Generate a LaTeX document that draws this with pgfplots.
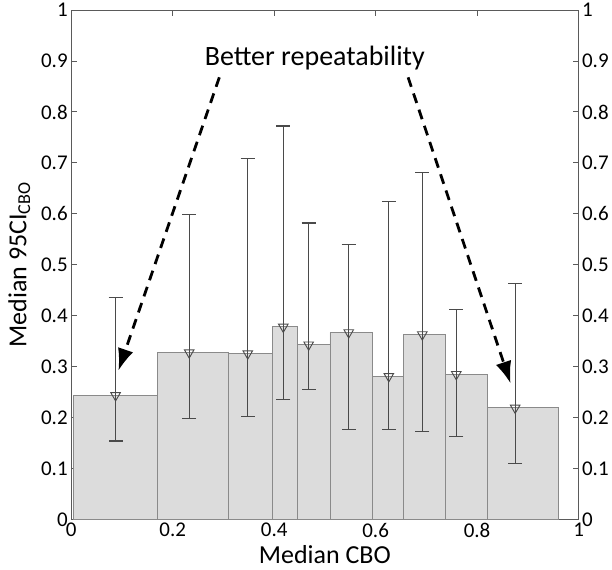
\documentclass[border={5bp 3bp 0bp 0bp}]{standalone}
\usepackage{fontspec}
\setmainfont{Carlito}
\usepackage{pgfplots}
\usepackage{pgfplotstable}
\pgfplotsset{compat=1.18}
\usetikzlibrary{arrows.meta}

\definecolor{barfill}{HTML}{DCDCDC}
\definecolor{baredge}{HTML}{8A8A8A}
\definecolor{errgray}{HTML}{4A4A4A}
\definecolor{axisgray}{HTML}{5A5A5A}

% bin edges (left) and bar heights; last row closes the final bin
\pgfplotstableread{
edge  h
0.005 0.2435
0.170 0.3276
0.310 0.3256
0.397 0.378
0.445 0.343
0.510 0.367
0.593 0.281
0.655 0.363
0.737 0.285
0.821 0.219
0.960 0.219
}\bins

% median position, median value, upper and lower CI ends
\pgfplotstableread{
x      y      top    bot
0.0875 0.2435 0.435  0.154
0.2326 0.3276 0.598  0.198
0.348  0.3256 0.709  0.2016
0.418  0.378  0.7725 0.236
0.468  0.343  0.582  0.2547
0.547  0.367  0.540  0.177
0.626  0.281  0.625  0.176
0.692  0.363  0.682  0.1726
0.759  0.285  0.413  0.163
0.875  0.219  0.464  0.109
}\medians

\begin{document}
\begin{tikzpicture}
\pgfplotsset{
  base/.style={
    scale only axis, width=506bp, height=508bp,
    xmin=0, xmax=1, ymin=0, ymax=1,
    xtick={0,0.2,0.4,0.6,0.8,1},
    ytick={0,0.1,0.2,0.3,0.4,0.5,0.6,0.7,0.8,0.9,1},
    tick align=inside, major tick length=6bp,
    axis line style={draw=axisgray, line width=0.9bp},
    every tick/.style={draw=axisgray, line width=0.9bp},
    /pgf/number format/assume math mode=true,
    tick label style={font=\fontsize{21}{24}\selectfont},
  }
}
\begin{axis}[base,
  xtick pos=both, xticklabel pos=bottom,
  ytick pos=both, yticklabel pos=left,
  xlabel={Median CBO},
  ylabel={Median 95CI\textsubscript{CBO}},
  label style={font=\fontsize{26}{29}\selectfont},
  xlabel style={yshift=-1bp},
  ylabel style={yshift=4bp},
  clip=false,
]
  \addplot[ybar interval, fill=barfill, draw=baredge, line width=0.9bp]
    table[x=edge, y=h] {\bins};
  \addplot[only marks, draw=errgray, line width=1.1bp,
    mark=triangle, mark size=5.5bp,
    mark options={rotate=180, fill=none, draw=errgray, line width=0.9bp},
    error bars/.cd, y dir=both, y explicit,
    error bar style={draw=errgray, line width=1.1bp},
    error mark options={rotate=90, mark size=7bp, draw=errgray, line width=1.1bp}]
    table[x=x, y=y,
      y error plus expr=\thisrow{top}-\thisrow{y},
      y error minus expr=\thisrow{y}-\thisrow{bot}] {\medians};
  \node[font=\fontsize{28}{31}\selectfont] at (axis cs:0.48,0.905) {Better repeatability};
  \draw[black, line width=2.8bp, dash pattern=on 10bp off 7bp,
    -{Latex[length=22bp, width=16bp]}]
    (axis cs:0.292,0.868) -- (axis cs:0.093,0.292);
  \draw[black, line width=2.8bp, dash pattern=on 10bp off 7bp,
    -{Latex[length=22bp, width=16bp]}]
    (axis cs:0.664,0.868) -- (axis cs:0.866,0.267);
\end{axis}
\begin{axis}[base,
  hide x axis,
  ytick pos=right, yticklabel pos=right,
]
\end{axis}
\end{tikzpicture}
\end{document}
